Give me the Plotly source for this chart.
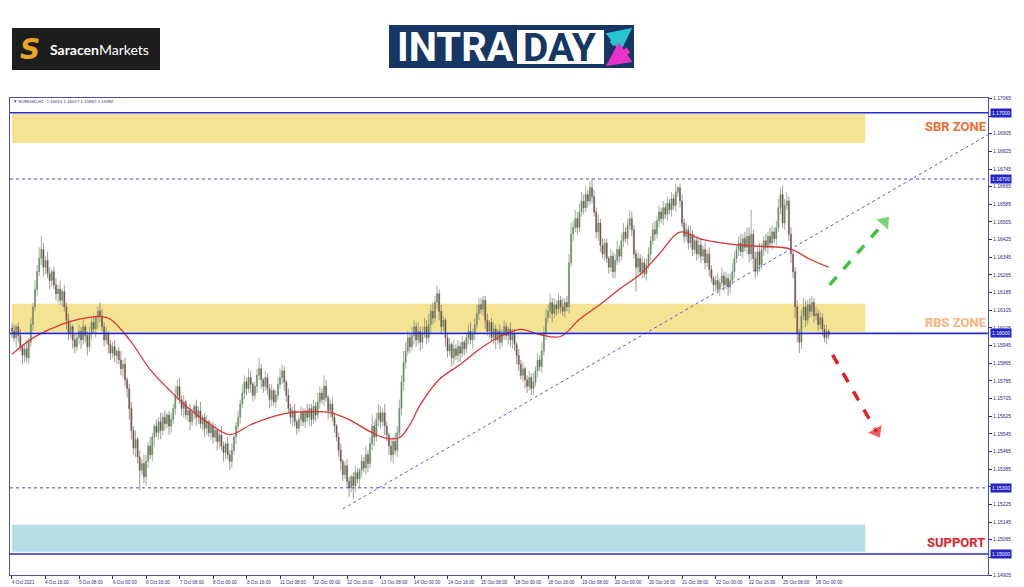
import plotly.graph_objects as go

# EURUSD H1, 4 Oct 2021 00:00 -> 26 Oct 2021 06:00 (one entry per hourly bar, weekends skipped)
first_open = 1.16025
close = [
    # 4 Oct 00:00
    1.1601, 1.1598, 1.1603, 1.1599, 1.1594, 1.1590, 1.1593, 1.1589, 1.1596, 1.1604, 1.1612, 1.1620, 1.1628, 1.1634, 1.1638, 1.1630,
    # 4 Oct 16:00
    1.1633, 1.1627, 1.1624, 1.1628, 1.1622, 1.1618, 1.1620, 1.1615, 1.1619, 1.1612, 1.1606, 1.1600, 1.1603, 1.1597, 1.1594, 1.1598,
    # 5 Oct 08:00
    1.1601, 1.1597, 1.1603, 1.1599, 1.1594, 1.1600, 1.1605, 1.1602, 1.1607, 1.1610, 1.1608, 1.1603, 1.1597, 1.1600, 1.1595, 1.1591,
    # 6 Oct 00:00
    1.1594, 1.1590, 1.1592, 1.1588, 1.1584, 1.1586, 1.1579, 1.1575, 1.1566, 1.1556, 1.1548, 1.1552, 1.1544, 1.1538, 1.1541, 1.1535,
    # 6 Oct 16:00
    1.1542, 1.1549, 1.1545, 1.1553, 1.1558, 1.1555, 1.1560, 1.1556, 1.1562, 1.1559, 1.1563, 1.1558, 1.1561, 1.1566, 1.1572, 1.1576,
    # 7 Oct 08:00
    1.1570, 1.1566, 1.1569, 1.1563, 1.1565, 1.1560, 1.1564, 1.1567, 1.1562, 1.1565, 1.1559, 1.1562, 1.1557, 1.1560, 1.1555, 1.1558,
    # 8 Oct 00:00
    1.1553, 1.1556, 1.1551, 1.1554, 1.1549, 1.1546, 1.1550, 1.1545, 1.1542, 1.1547, 1.1553, 1.1558, 1.1562, 1.1568, 1.1573, 1.1578,
    # 8 Oct 16:00
    1.1575, 1.1580, 1.1577, 1.1572, 1.1576, 1.1581, 1.1584, 1.1579, 1.1576, 1.1580, 1.1575, 1.1570, 1.1574, 1.1569, 1.1572, 1.1577,
    # 11 Oct 08:00
    1.1580, 1.1583, 1.1578, 1.1572, 1.1566, 1.1562, 1.1565, 1.1560, 1.1557, 1.1561, 1.1564, 1.1560, 1.1565, 1.1562, 1.1566, 1.1561,
    # 12 Oct 00:00
    1.1567, 1.1563, 1.1569, 1.1573, 1.1570, 1.1576, 1.1571, 1.1565, 1.1568, 1.1562, 1.1558, 1.1553, 1.1547, 1.1542, 1.1536, 1.1540,
    # 12 Oct 16:00
    1.1533, 1.1530, 1.1535, 1.1531, 1.1537, 1.1534, 1.1538, 1.1542, 1.1539, 1.1545, 1.1541, 1.1550, 1.1558, 1.1553, 1.1561, 1.1564,
    # 13 Oct 08:00
    1.1560, 1.1564, 1.1558, 1.1554, 1.1549, 1.1545, 1.1551, 1.1547, 1.1555, 1.1566, 1.1578, 1.1587, 1.1592, 1.1598, 1.1594, 1.1599,
    # 14 Oct 00:00
    1.1603, 1.1597, 1.1601, 1.1596, 1.1600, 1.1603, 1.1598, 1.1604, 1.1610, 1.1607, 1.1614, 1.1618, 1.1610, 1.1603, 1.1606, 1.1598,
    # 14 Oct 16:00
    1.1592, 1.1595, 1.1589, 1.1593, 1.1590, 1.1594, 1.1591, 1.1596, 1.1593, 1.1598, 1.1601, 1.1597, 1.1600, 1.1604, 1.1609, 1.1613,
    # 15 Oct 08:00
    1.1611, 1.1615, 1.1606, 1.1601, 1.1605, 1.1598, 1.1602, 1.1597, 1.1601, 1.1596, 1.1600, 1.1603, 1.1599, 1.1602, 1.1597, 1.1600,
    # 18 Oct 00:00
    1.1595, 1.1590, 1.1586, 1.1581, 1.1584, 1.1579, 1.1576, 1.1580, 1.1575, 1.1578, 1.1583, 1.1588, 1.1585, 1.1592, 1.1600, 1.1607,
    # 18 Oct 16:00
    1.1610, 1.1614, 1.1609, 1.1613, 1.1611, 1.1615, 1.1612, 1.1610, 1.1614, 1.1612, 1.1632, 1.1645, 1.1648, 1.1652, 1.1648, 1.1655,
    # 19 Oct 08:00
    1.1660, 1.1657, 1.1663, 1.1660, 1.1666, 1.1662, 1.1655, 1.1646, 1.1650, 1.1640, 1.1636, 1.1641, 1.1634, 1.1630, 1.1635, 1.1628,
    # 20 Oct 00:00
    1.1633, 1.1638, 1.1635, 1.1642, 1.1646, 1.1643, 1.1649, 1.1652, 1.1647, 1.1636, 1.1630, 1.1634, 1.1628, 1.1632, 1.1627, 1.1631,
    # 20 Oct 16:00
    1.1636, 1.1642, 1.1647, 1.1645, 1.1651, 1.1655, 1.1652, 1.1657, 1.1654, 1.1659, 1.1656, 1.1661, 1.1658, 1.1664, 1.1666, 1.1660,
    # 21 Oct 08:00
    1.1650, 1.1644, 1.1647, 1.1641, 1.1645, 1.1638, 1.1642, 1.1636, 1.1640, 1.1635, 1.1638, 1.1632, 1.1636, 1.1629, 1.1625, 1.1622,
    # 22 Oct 00:00
    1.1624, 1.1620, 1.1623, 1.1626, 1.1622, 1.1625, 1.1621, 1.1624, 1.1628, 1.1634, 1.1638, 1.1641, 1.1637, 1.1643, 1.1639, 1.1644,
    # 22 Oct 16:00
    1.1636, 1.1645, 1.1634, 1.1628, 1.1637, 1.1631, 1.1638, 1.1642, 1.1639, 1.1644, 1.1641, 1.1646, 1.1643, 1.1648, 1.1657, 1.1663,
    # 25 Oct 08:00
    1.1650, 1.1658, 1.1660, 1.1645, 1.1636, 1.1628, 1.1612, 1.1600, 1.1596, 1.1608, 1.1612, 1.1606, 1.1613, 1.1610, 1.1614, 1.1608,
    # 26 Oct 00:00
    1.1609, 1.1604, 1.1607, 1.1602, 1.1598, 1.1601, 1.15992,
]

# wick lengths above / below the body, in pips
upper_wick = [
    2, 3, 1, 2, 3, 1, 2, 4, 2, 3, 2, 4, 3, 5, 6, 3,
    2, 4, 3, 1, 2, 3, 2, 4, 1, 3, 2, 3, 2, 1, 3, 2,
    3, 2, 4, 1, 2, 3, 2, 3, 1, 2, 4, 3, 2, 3, 1, 2,
    2, 3, 1, 2, 4, 2, 3, 1, 2, 3, 2, 4, 1, 3, 2, 4,
    3, 2, 4, 2, 1, 3, 2, 4, 2, 3, 1, 2, 3, 2, 4, 3,
    4, 2, 3, 1, 2, 3, 2, 1, 3, 2, 4, 1, 2, 3, 1, 2,
    2, 3, 1, 2, 4, 2, 1, 3, 2, 3, 1, 2, 3, 2, 4, 3,
    2, 4, 3, 1, 2, 3, 5, 2, 1, 3, 2, 2, 3, 1, 2, 3,
    4, 3, 2, 1, 3, 2, 2, 3, 1, 2, 3, 2, 1, 3, 2, 2,
    3, 2, 4, 3, 2, 5, 3, 1, 2, 3, 2, 1, 2, 3, 1, 2,
    3, 2, 1, 2, 3, 2, 1, 3, 2, 4, 2, 3, 5, 2, 3, 4,
    3, 2, 4, 2, 1, 3, 2, 4, 3, 4, 3, 5, 4, 3, 2, 4,
    3, 2, 4, 2, 3, 4, 3, 5, 3, 4, 3, 4, 2, 3, 2, 1,
    2, 3, 1, 4, 2, 3, 2, 3, 1, 2, 3, 4, 2, 3, 4, 3,
    3, 2, 2, 3, 1, 2, 3, 2, 1, 3, 2, 3, 2, 1, 3, 2,
    2, 1, 3, 2, 3, 1, 2, 3, 2, 4, 2, 3, 2, 4, 3, 4,
    3, 4, 2, 3, 2, 3, 2, 4, 2, 3, 4, 5, 3, 4, 3, 4,
    4, 3, 4, 2, 3, 4, 3, 2, 4, 2, 3, 2, 2, 1, 3, 2,
    3, 4, 2, 3, 4, 2, 3, 4, 3, 2, 2, 3, 2, 3, 2, 3,
    3, 2, 3, 4, 2, 3, 2, 3, 2, 3, 2, 3, 2, 4, 1, 2,
    3, 2, 3, 2, 4, 2, 3, 2, 4, 3, 2, 3, 2, 3, 2, 1,
    2, 3, 2, 4, 2, 3, 2, 3, 4, 3, 2, 3, 4, 2, 3, 4,
    4, 11, 2, 3, 2, 4, 3, 2, 3, 2, 4, 3, 2, 3, 4, 3,
    4, 3, 4, 2, 3, 2, 2, 3, 2, 3, 4, 3, 2, 3, 3, 2,
    3, 2, 3, 2, 2, 3, 1,
]
lower_wick = [
    3, 2, 4, 3, 2, 4, 3, 2, 3, 2, 3, 2, 3, 2, 3, 4,
    3, 2, 4, 3, 2, 3, 4, 2, 3, 2, 4, 3, 2, 4, 3, 2,
    3, 4, 2, 3, 4, 2, 3, 2, 4, 5, 3, 2, 3, 2, 4, 3,
    2, 3, 4, 2, 3, 4, 3, 4, 5, 4, 3, 4, 3, 9, 2, 3,
    4, 3, 2, 3, 4, 2, 3, 4, 2, 3, 2, 4, 3, 2, 3, 2,
    2, 3, 4, 2, 3, 4, 2, 3, 4, 3, 2, 3, 4, 3, 2, 3,
    3, 2, 4, 3, 2, 4, 3, 2, 4, 3, 2, 3, 2, 3, 2, 3,
    3, 2, 4, 3, 2, 3, 2, 4, 3, 2, 3, 4, 3, 2, 3, 2,
    2, 3, 4, 3, 2, 3, 4, 2, 3, 2, 3, 2, 3, 2, 4, 3,
    2, 3, 2, 3, 2, 3, 2, 4, 3, 2, 3, 2, 3, 4, 3, 2,
    3, 4, 2, 6, 3, 2, 4, 3, 2, 3, 4, 2, 3, 4, 2, 3,
    3, 2, 4, 3, 4, 3, 4, 2, 3, 2, 3, 4, 3, 2, 3, 2,
    4, 3, 2, 4, 3, 2, 3, 2, 4, 3, 2, 3, 4, 3, 2, 4,
    3, 2, 4, 3, 2, 3, 4, 2, 3, 2, 3, 2, 4, 3, 2, 3,
    2, 3, 4, 2, 3, 2, 3, 4, 2, 3, 2, 3, 2, 4, 3, 4,
    3, 4, 3, 2, 3, 4, 3, 2, 3, 3, 2, 3, 2, 3, 2, 3,
    2, 3, 4, 2, 3, 2, 3, 2, 3, 2, 3, 2, 3, 2, 3, 2,
    2, 3, 2, 3, 2, 3, 2, 3, 4, 3, 2, 3, 2, 3, 2, 3,
    3, 2, 3, 2, 3, 2, 3, 2, 3, 2, 11, 3, 2, 3, 2, 3,
    2, 3, 2, 3, 2, 3, 2, 3, 2, 3, 2, 3, 2, 3, 2, 3,
    2, 3, 2, 3, 2, 3, 2, 3, 2, 3, 2, 3, 2, 3, 2, 3,
    3, 2, 3, 2, 3, 2, 4, 3, 2, 3, 2, 3, 2, 3, 2, 3,
    4, 3, 5, 3, 2, 3, 2, 3, 2, 3, 2, 3, 2, 3, 2, 3,
    2, 3, 2, 3, 4, 3, 5, 4, 5, 3, 2, 3, 2, 3, 2, 3,
    2, 3, 2, 3, 2, 3, 2,
]

# red moving average, read at sample bars
ma_bar = [0, 9, 18, 28, 37, 42, 47, 56, 66, 75, 85, 95, 104, 114, 123, 133, 142, 152, 161, 171, 178,
          185, 190, 195, 204, 214, 223, 233, 243, 252, 262, 271, 281, 290, 300, 309, 319, 329, 343,
          357, 372, 381, 390]
ma_value = [1.15905, 1.15973, 1.16018, 1.16055, 1.16073, 1.16077, 1.16064, 1.15973, 1.15836, 1.15745,
            1.15655, 1.15586, 1.15541, 1.15586, 1.15618, 1.15641, 1.15645, 1.15641, 1.15609, 1.15555,
            1.15527, 1.15527, 1.15586, 1.15677, 1.15791, 1.15859, 1.15927, 1.15986, 1.16018, 1.15995,
            1.15986, 1.16064, 1.16132, 1.16200, 1.16268, 1.16359, 1.16459, 1.16427, 1.16405, 1.16395,
            1.16382, 1.16336, 1.16300]

time_labels = ["4 Oct 2021", "4 Oct 16:00", "5 Oct 08:00", "6 Oct 00:00", "6 Oct 16:00", "7 Oct 08:00",
               "8 Oct 00:00", "8 Oct 16:00", "11 Oct 08:00", "12 Oct 00:00", "12 Oct 16:00", "13 Oct 08:00",
               "14 Oct 00:00", "14 Oct 16:00", "15 Oct 08:00", "18 Oct 00:00", "18 Oct 16:00", "19 Oct 08:00",
               "20 Oct 00:00", "20 Oct 16:00", "21 Oct 08:00", "22 Oct 00:00", "22 Oct 16:00", "25 Oct 08:00",
               "26 Oct 00:00"]
bars_per_label = 16

price_ticks = [1.14905, 1.14985, 1.15065, 1.15145, 1.15225, 1.15305, 1.15385, 1.15465, 1.15545, 1.15625,
               1.15705, 1.15785, 1.15865, 1.15945, 1.16025, 1.16105, 1.16185, 1.16265, 1.16345, 1.16425,
               1.16505, 1.16585, 1.16665, 1.16745, 1.16825, 1.16905, 1.16985, 1.17065]

solid_levels = [1.17000, 1.16000, 1.15000]
dotted_levels = [1.16700, 1.15300]

zone_names = ["SBR ZONE", "RBS ZONE", "SUPPORT"]
zone_top = [1.16995, 1.16134, 1.15133]
zone_bottom = [1.16863, 1.16007, 1.15010]
zone_label_price = [1.16940, 1.16048, 1.15051]
zone_end_bar = 407.5
zone_colors = ["#f5e394", "#f5e394", "#b5dfe5"]
zone_text_colors = ["#f26c32", "#f8b47a", "#e2202b"]

trend_bar = [158.0, 470.0]
trend_price = [1.15205, 1.16922]

up_arrow_bar = [390.5, 416.7]
up_arrow_price = [1.16220, 1.16505]
down_arrow_bar = [391.9, 412.9]
down_arrow_price = [1.15903, 1.15554]

PIP = 0.0001
NAVY = "#2c2c7c"
BLUE = "#2424c8"
SMALL = "Liberation Sans"

opens = [first_open] + close[:-1]
highs = [max(o, c) + u * PIP for o, c, u in zip(opens, close, upper_wick)]
lows = [min(o, c) - d * PIP for o, c, d in zip(opens, close, lower_wick)]
bars = list(range(len(close)))

# plot area in pixels: x 10..988, y 98..575
L, R, T, B = 10, 988, 98, 575


def px(x):
    return (x - L) / (R - L)


def py(y):
    return (B - y) / (B - T)


def note(x, y, text, size, color, family=SMALL, **kw):
    kw.setdefault("xanchor", "center")
    fig.add_annotation(x=px(x), y=py(y), xref="paper", yref="paper", yanchor="middle",
                       text=text, showarrow=False, font=dict(family=family, size=size, color=color), **kw)


fig = go.Figure()

fig.add_trace(go.Candlestick(
    x=bars, open=opens, high=highs, low=lows, close=close,
    increasing=dict(line=dict(color="#7d8f78", width=0.7), fillcolor="#3c8c34"),
    decreasing=dict(line=dict(color="#7a6a66", width=0.7), fillcolor="#5e2e20"),
    whiskerwidth=0, hoverinfo="skip",
))

fig.add_trace(go.Scatter(
    x=ma_bar, y=ma_value, mode="lines", line=dict(color="#e03232", width=1.3, shape="spline"),
    hoverinfo="skip",
))

fig.add_trace(go.Scatter(
    x=trend_bar, y=trend_price, mode="lines", line=dict(color="#5a5ad2", width=1, dash="dot"),
    hoverinfo="skip",
))

for xs, ys, col in [(up_arrow_bar, up_arrow_price, "#3ec43e"), (down_arrow_bar, down_arrow_price, "#e21e1e")]:
    fig.add_trace(go.Scatter(
        x=xs, y=ys, mode="lines+markers",
        line=dict(color=col, width=3.5, dash="dash"),
        marker=dict(symbol="triangle-up", size=[0, 15], color=col, angleref="previous"),
        cliponaxis=False, hoverinfo="skip",
    ))

# zones
for name, top, bot, lab_y, fill, tcol in zip(zone_names, zone_top, zone_bottom, zone_label_price,
                                              zone_colors, zone_text_colors):
    fig.add_shape(type="rect", xref="x", yref="y", x0=0, x1=zone_end_bar, y0=bot, y1=top,
                  fillcolor=fill, line_width=0, layer="below")
    fig.add_annotation(x=px(956), xref="paper", xanchor="center", y=lab_y, yref="y",
                       yanchor="middle", text="<b>%s</b>" % name, showarrow=False,
                       font=dict(family="Roboto", size=13, color=tcol))

for lv in solid_levels:
    fig.add_shape(type="line", xref="paper", yref="y", x0=0, x1=1, y0=lv, y1=lv,
                  line=dict(color="#2a2ac4", width=1.6))
for lv in dotted_levels:
    fig.add_shape(type="line", xref="paper", yref="y", x0=0, x1=1, y0=lv, y1=lv,
                  line=dict(color="#4a4ac8", width=1, dash="dot"))

# highlighted price labels on the right axis
for lv in solid_levels + dotted_levels:
    fig.add_annotation(x=1, xref="paper", xanchor="left", xshift=2, y=lv, yref="y", yanchor="middle",
                       text="%.5f" % lv, showarrow=False, bgcolor=BLUE, borderpad=1,
                       font=dict(family=SMALL, size=5, color="white"))

# time labels (left aligned at their tick, MT4 style)
for i, lab in enumerate(time_labels):
    fig.add_annotation(x=i * bars_per_label, xref="x", xanchor="left", xshift=-2,
                       y=py(582), yref="paper", yanchor="middle", text=lab, showarrow=False,
                       font=dict(family=SMALL, size=4.6, color=NAVY))

note(11, 101, "\u25bc EURUSD,H1  1.16015 1.16017 1.15987 1.15992", 4.4, NAVY, xanchor="left")

# Saracen Markets logo
fig.add_shape(type="rect", xref="paper", yref="paper", x0=px(12), x1=px(160), y0=py(70), y1=py(28),
              fillcolor="#1d1d1d", line_width=0)
note(30, 49, "<b><i>S</i></b>", 28, "#e9a623", family="DejaVu Sans")
note(99, 49, "<b>Saracen</b>Markets", 14, "white", family="Lato")

# INTRADAY logo
fig.add_shape(type="rect", xref="paper", yref="paper", x0=px(389), x1=px(634), y0=py(68), y1=py(25),
              fillcolor="#163764", line_width=0)
fig.add_shape(type="rect", xref="paper", yref="paper", x0=px(517), x1=px(604), y0=py(64), y1=py(30),
              fillcolor="white", line_width=0)
note(455, 48, "<b>INTRA</b>", 40, "white", family="Roboto")
note(560, 48, "<b>DAY</b>", 39, "#163764", family="Roboto")
fig.add_annotation(x=px(632), y=py(28), xref="paper", yref="paper", ax=-22, ay=17, text="", showarrow=True,
                   arrowhead=2, arrowsize=0.8, arrowwidth=6, arrowcolor="#27c6cf")
fig.add_annotation(x=px(606), y=py(66), xref="paper", yref="paper", ax=24, ay=-17, text="", showarrow=True,
                   arrowhead=2, arrowsize=0.8, arrowwidth=6, arrowcolor="#e933c6")

fig.update_layout(
    width=1024, height=587,
    margin=dict(l=L, r=1024 - R, t=T, b=587 - B, autoexpand=False),
    paper_bgcolor="white", plot_bgcolor="white",
    showlegend=False,
    xaxis=dict(
        range=[-0.95, 466.1], rangeslider=dict(visible=False),
        tickvals=[i * bars_per_label for i in range(len(time_labels))], showticklabels=False,
        ticks="outside", ticklen=3, tickcolor=NAVY,
        showline=True, mirror=True, linecolor="#5050aa", linewidth=1,
        showgrid=False, zeroline=False,
    ),
    yaxis=dict(
        side="right", range=[1.14905, 1.17067], automargin=False,
        tickvals=price_ticks,
        # the two ticks next to the boxed 1.17000 / 1.15000 labels are hidden behind them
        ticktext=["" if abs(v - 1.16985) < 1e-9 or abs(v - 1.14985) < 1e-9 else "%.5f" % v for v in price_ticks],
        ticks="outside", ticklen=3, tickcolor=NAVY,
        tickfont=dict(family=SMALL, size=5, color=NAVY),
        showline=True, mirror=True, linecolor="#5050aa", linewidth=1,
        showgrid=False, zeroline=False,
    ),
)

fig.write_html("out.html", config={"displayModeBar": False},
               post_script="document.body.style.margin='0';")
